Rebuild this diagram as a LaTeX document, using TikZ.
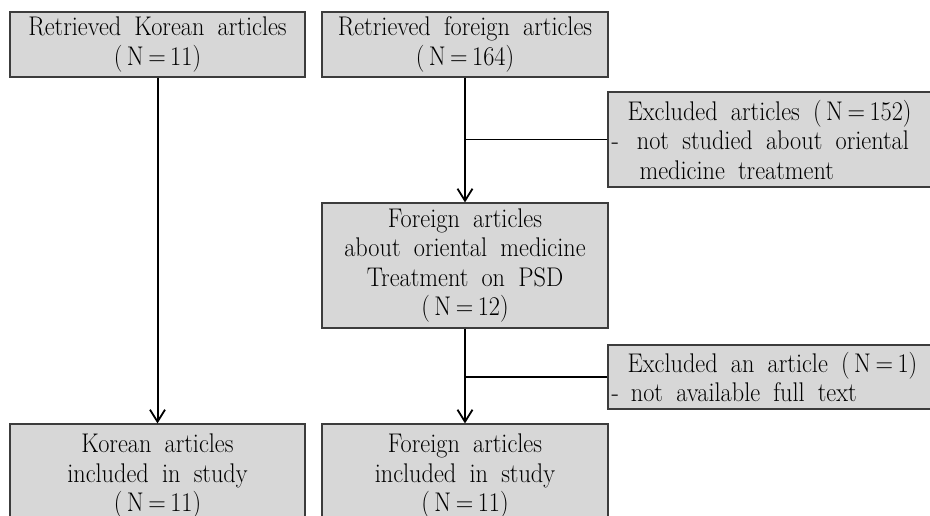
\documentclass[tikz,border=0pt]{standalone}
\usepackage{fontspec}
\setmainfont{Latin Modern Roman}[FakeStretch=0.9,WordSpace=1.8]
\usetikzlibrary{arrows.meta}
\definecolor{boxfill}{RGB}{215,215,215}
\definecolor{boxline}{RGB}{60,60,60}
\tikzset{
  flowbox/.style={draw=boxline, line width=1.2pt, fill=boxfill, inner sep=0pt, align=center,
    font=\fontsize{27}{29.5}\selectfont},
  exbox/.style={draw=boxline, line width=1.2pt, fill=boxfill, inner sep=0pt},
  extext/.style={inner sep=0pt, align=left, anchor=west, font=\fontsize{27}{29.5}\selectfont},
  mainarrow/.style={line width=2pt, -{Straight Barb[length=12pt,width=15pt,line width=1.8pt]}},
  joinline/.style={line width=1.4pt}
}
\begin{document}
\begin{tikzpicture}[x=1pt,y=-1pt]
\useasboundingbox (0,0) rectangle (930,515);
\node[flowbox, minimum width=295pt, minimum height=65pt] (kr) at (157.5,44.5)
  {Retrieved Korean articles\\(\,N\,=\,11)};
\node[flowbox, minimum width=286pt, minimum height=65pt] (fr) at (465,44.5)
  {Retrieved foreign articles\\(\,N\,=\,164)};
\node[flowbox, minimum width=286pt, minimum height=125pt] (fo) at (465,265.5)
  {Foreign articles\\about oriental medicine\\Treatment on PSD\\(\,N\,=\,12)};
\node[exbox, minimum width=340pt, minimum height=95pt] (ex1) at (778,139.5) {};
\node[extext] (ex1t) at ([xshift=4pt]ex1.west)
  {\hspace{16pt}Excluded articles (\,N\,=\,152)\\-\hspace{18pt}not studied about oriental\\\hspace{28pt}medicine treatment};
\node[exbox, minimum width=340pt, minimum height=64pt] (ex2) at (778,377) {};
\node[extext] (ex2t) at ([xshift=4pt]ex2.west)
  {\hspace{16pt}Excluded an article (\,N\,=\,1)\\-\hspace{12pt}not available full text};
\node[flowbox, minimum width=295pt, minimum height=104pt] (ki) at (157.5,476)
  {Korean articles\\included in study\\(\,N\,=\,11)};
\node[flowbox, minimum width=286pt, minimum height=104pt] (fi) at (465,476)
  {Foreign articles\\included in study\\(\,N\,=\,11)};
\draw[mainarrow] (kr.south) -- (ki.north);
\draw[mainarrow] (fr.south) -- (fo.north);
\draw[mainarrow] (fo.south) -- (fi.north);
\draw[joinline] (ex1.west) -- (fr.south |- ex1.west);
\draw[joinline] (ex2.west) -- (fo.south |- ex2.west);
\end{tikzpicture}
\end{document}
